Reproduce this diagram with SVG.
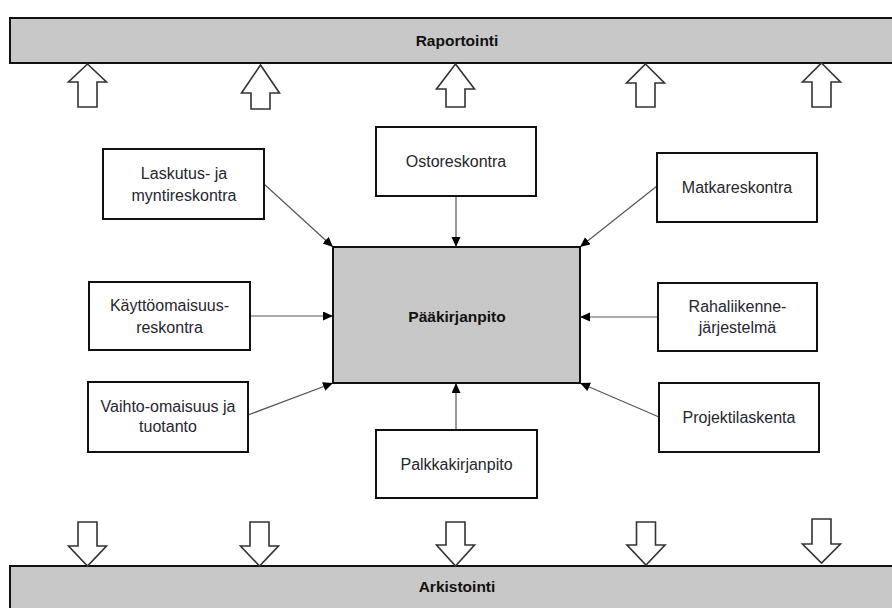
<svg xmlns="http://www.w3.org/2000/svg" width="892" height="608" viewBox="0 0 892 608">
<defs>
<marker id="ah" markerUnits="userSpaceOnUse" markerWidth="11" markerHeight="10" refX="10" refY="4.5" orient="auto">
<path d="M0,0 L10,4.5 L0,9 Z" fill="#000"/>
</marker>
<style>
.bar{fill:#c8c8c8;stroke:#111;stroke-width:2}
.box{fill:#fff;stroke:#111;stroke-width:2}
.main{fill:#c8c8c8;stroke:#111;stroke-width:2}
.blk{fill:#fff;stroke:#333;stroke-width:1.6;stroke-linejoin:miter}
.t{font-family:"Liberation Sans",Arial,sans-serif;font-size:16px;fill:#262630;text-anchor:middle}
.b{font-family:"Liberation Sans",Arial,sans-serif;font-size:15.5px;font-weight:bold;fill:#111;text-anchor:middle}
.c{stroke:#555;stroke-width:1.2;fill:none;marker-end:url(#ah)}
</style>
</defs>
<rect width="892" height="608" fill="#fff"/>

<g id="raportointi">
<rect class="bar" x="10" y="18" width="900" height="45"/>
<text class="b" x="457" y="46">Raportointi</text>
</g>
<g id="arkistointi">
<rect class="bar" x="10" y="566" width="900" height="60"/>
<text class="b" x="457" y="592">Arkistointi</text>
</g>

<g id="up-arrows">
<path class="blk" d="M87.5,64 L106.5,82 L97,82 L97,107 L78,107 L78,82 L68.5,82 Z"/>
<path class="blk" d="M260.5,65 L279.5,93 L270,93 L270,109 L251,109 L251,93 L241.5,93 Z"/>
<path class="blk" d="M455.5,64 L474.5,89 L465,89 L465,107 L446,107 L446,89 L436.5,89 Z"/>
<path class="blk" d="M645.5,64 L664.5,83 L655,83 L655,107 L636,107 L636,83 L626.5,83 Z"/>
<path class="blk" d="M821.5,63 L840.5,82 L831,82 L831,107 L812,107 L812,82 L802.5,82 Z"/>
</g>
<g id="down-arrows">
<path class="blk" d="M78,522 L97,522 L97,546 L106.5,546 L87.5,566 L68.5,546 L78,546 Z"/>
<path class="blk" d="M250,522 L269,522 L269,546 L278.5,546 L259.5,566 L240.5,546 L250,546 Z"/>
<path class="blk" d="M446,522 L465,522 L465,545 L474.5,545 L455.5,566 L436.5,545 L446,545 Z"/>
<path class="blk" d="M636.5,522 L655.5,522 L655.5,545 L665,545 L646,565 L627,545 L636.5,545 Z"/>
<path class="blk" d="M812,519 L831,519 L831,544 L840.5,544 L821.5,563 L802.5,544 L812,544 Z"/>
</g>

<g id="connectors">
<line class="c" x1="456" y1="196" x2="456" y2="247"/>
<line class="c" x1="264" y1="184" x2="333" y2="247"/>
<line class="c" x1="657" y1="186" x2="580" y2="247"/>
<line class="c" x1="250" y1="316" x2="333" y2="316"/>
<line class="c" x1="658" y1="317" x2="580" y2="317"/>
<line class="c" x1="248" y1="415" x2="333" y2="383"/>
<line class="c" x1="659" y1="417" x2="580" y2="383"/>
<line class="c" x1="456" y1="430" x2="456" y2="383"/>
</g>

<g id="paakirjanpito">
<rect class="main" x="333" y="247" width="247" height="136"/>
<text class="b" x="457" y="322">Pääkirjanpito</text>
</g>
<g id="ostoreskontra">
<rect class="box" x="376" y="127" width="160" height="69"/>
<text class="t" x="456" y="167">Ostoreskontra</text>
</g>
<g id="laskutus">
<rect class="box" x="103" y="149" width="161" height="70"/>
<text class="t" x="184" y="179">Laskutus- ja</text>
<text class="t" x="184" y="201">myntireskontra</text>
</g>
<g id="matkareskontra">
<rect class="box" x="657" y="153" width="160" height="69"/>
<text class="t" x="737" y="193">Matkareskontra</text>
</g>
<g id="kayttoomaisuus">
<rect class="box" x="89" y="282" width="161" height="68"/>
<text class="t" x="169.5" y="311">Käyttöomaisuus-</text>
<text class="t" x="169.5" y="332.5">reskontra</text>
</g>
<g id="rahaliikenne">
<rect class="box" x="658" y="283" width="159" height="68"/>
<text class="t" x="737.5" y="311.5">Rahaliikenne-</text>
<text class="t" x="737.5" y="333">järjestelmä</text>
</g>
<g id="vaihtoomaisuus">
<rect class="box" x="88" y="382" width="160" height="70"/>
<text class="t" x="168" y="411.5">Vaihto-omaisuus ja</text>
<text class="t" x="168" y="432">tuotanto</text>
</g>
<g id="projektilaskenta">
<rect class="box" x="659" y="383" width="160" height="69"/>
<text class="t" x="739" y="423">Projektilaskenta</text>
</g>
<g id="palkkakirjanpito">
<rect class="box" x="376" y="430" width="161" height="68"/>
<text class="t" x="456.5" y="470">Palkkakirjanpito</text>
</g>
</svg>
